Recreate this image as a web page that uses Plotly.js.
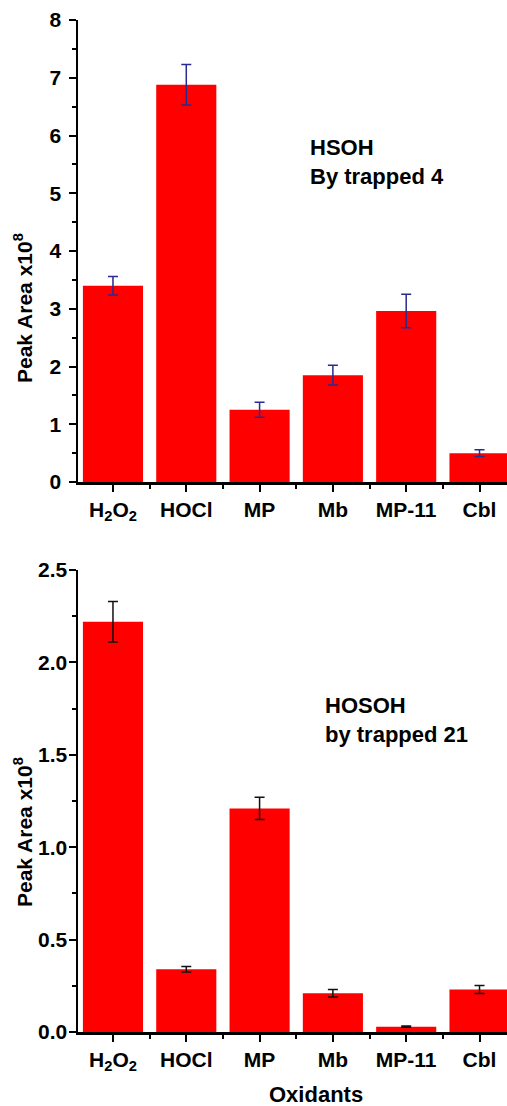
<!DOCTYPE html>
<html>
<head>
<meta charset="utf-8">
<script src="https://cdn.plot.ly/plotly-3.0.1.min.js"></script>
<style>
html,body{margin:0;padding:0;background:#fff;overflow:hidden;}
#chart{width:507px;height:1106px;}
</style>
</head>
<body>
<div id="chart"></div>
<script>
// Data
const categories = ["H<sub>2</sub>O<sub>2</sub>", "HOCl", "MP", "Mb", "MP-11", "Cbl"];
const hsohValues = [3.40, 6.88, 1.25, 1.85, 2.96, 0.50];
const hsohErrors = [0.16, 0.35, 0.13, 0.17, 0.29, 0.06];
const hosohValues = [2.22, 0.34, 1.21, 0.21, 0.029, 0.23];
const hosohErrors = [0.11, 0.015, 0.06, 0.02, 0.003, 0.022];
const topTicks = [0, 1, 2, 3, 4, 5, 6, 7, 8];
const bottomTicks = [0, 0.5, 1.0, 1.5, 2.0, 2.5];

const xpos = categories.map((_, i) => i);
const FONT = "Liberation Sans, Arial, Helvetica, sans-serif";
const W = 507, H = 1106;
const px = v => v / W;
const py = v => 1 - v / H;

const traces = [
  {
    type: "bar", x: xpos, y: hsohValues, xaxis: "x", yaxis: "y",
    marker: {color: "#ff0000"},
    error_y: {type: "data", array: hsohErrors, visible: true, color: "#2a2a90", thickness: 1.5, width: 5},
    hoverinfo: "none"
  },
  {
    type: "bar", x: xpos, y: hosohValues, xaxis: "x2", yaxis: "y2",
    marker: {color: "#ff0000"},
    error_y: {type: "data", array: hosohErrors, visible: true, color: "#111111", thickness: 1.5, width: 5},
    hoverinfo: "none"
  }
];

const xCommon = {
  range: [-0.477, 5.375],
  domain: [px(78), 1],
  tickvals: xpos,
  ticktext: categories,
  ticks: "outside", ticklen: 7, tickwidth: 2, tickcolor: "#000",
  showline: true, linecolor: "#000", linewidth: 2.5,
  showgrid: false, zeroline: false,
  tickfont: {family: FONT, size: 21, color: "#000", weight: 700},
  minor: {tick0: 0.5, dtick: 1, ticks: "outside", ticklen: 4, tickwidth: 2, tickcolor: "#000", showgrid: false},
  fixedrange: true
};
const yCommon = {
  ticks: "outside", ticklen: 7, tickwidth: 2, tickcolor: "#000",
  showline: true, linecolor: "#000", linewidth: 2.5,
  showgrid: false, zeroline: false,
  fixedrange: true
};

const layout = {
  width: W, height: H,
  margin: {l: 0, r: 0, t: 0, b: 0},
  paper_bgcolor: "#fff", plot_bgcolor: "#fff",
  showlegend: false,
  bargap: 0.18,
  xaxis: Object.assign({}, xCommon, {anchor: "y"}),
  xaxis2: Object.assign({}, xCommon, {anchor: "y2"}),
  yaxis: Object.assign({}, yCommon, {
    anchor: "x", domain: [py(482), py(20)], range: [0, 8],
    tickvals: topTicks, ticklabelstandoff: 3,
    tickfont: {family: FONT, size: 21, color: "#000", weight: 700},
    minor: {tick0: 0, dtick: 0.5, ticks: "outside", ticklen: 4, tickwidth: 2, tickcolor: "#000", showgrid: false}
  }),
  yaxis2: Object.assign({}, yCommon, {
    anchor: "x2", domain: [py(1032), py(570)], range: [0, 2.5],
    tickvals: bottomTicks, tickformat: ".1f", ticklabelstandoff: -3,
    tickfont: {family: FONT, size: 21, color: "#000", weight: 700},
    minor: {tick0: 0, dtick: 0.25, ticks: "outside", ticklen: 4, tickwidth: 2, tickcolor: "#000", showgrid: false}
  }),
  annotations: [
    {xref: "paper", yref: "paper", x: px(23), y: py(308), text: "Peak Area x10<sup>8</sup>", textangle: -90,
     showarrow: false, xanchor: "center", yanchor: "middle",
     font: {family: FONT, size: 21, color: "#000", weight: 700}},
    {xref: "paper", yref: "paper", x: px(23), y: py(832), text: "Peak Area x10<sup>8</sup>", textangle: -90,
     showarrow: false, xanchor: "center", yanchor: "middle",
     font: {family: FONT, size: 21, color: "#000", weight: 700}},
    {xref: "paper", yref: "paper", x: px(308), y: py(162), text: "HSOH<br>By trapped 4", align: "left",
     showarrow: false, xanchor: "left", yanchor: "middle",
     font: {family: FONT, size: 22, color: "#000", weight: 700}},
    {xref: "paper", yref: "paper", x: px(323), y: py(720), text: "HOSOH<br>by trapped 21", align: "left",
     showarrow: false, xanchor: "left", yanchor: "middle",
     font: {family: FONT, size: 22, color: "#000", weight: 700}},
    {xref: "paper", yref: "paper", x: px(316), y: py(1094), text: "Oxidants",
     showarrow: false, xanchor: "center", yanchor: "middle",
     font: {family: FONT, size: 22, color: "#000", weight: 700}}
  ]
};

Plotly.newPlot("chart", traces, layout, {displayModeBar: false, staticPlot: true});
</script>
</body>
</html>
